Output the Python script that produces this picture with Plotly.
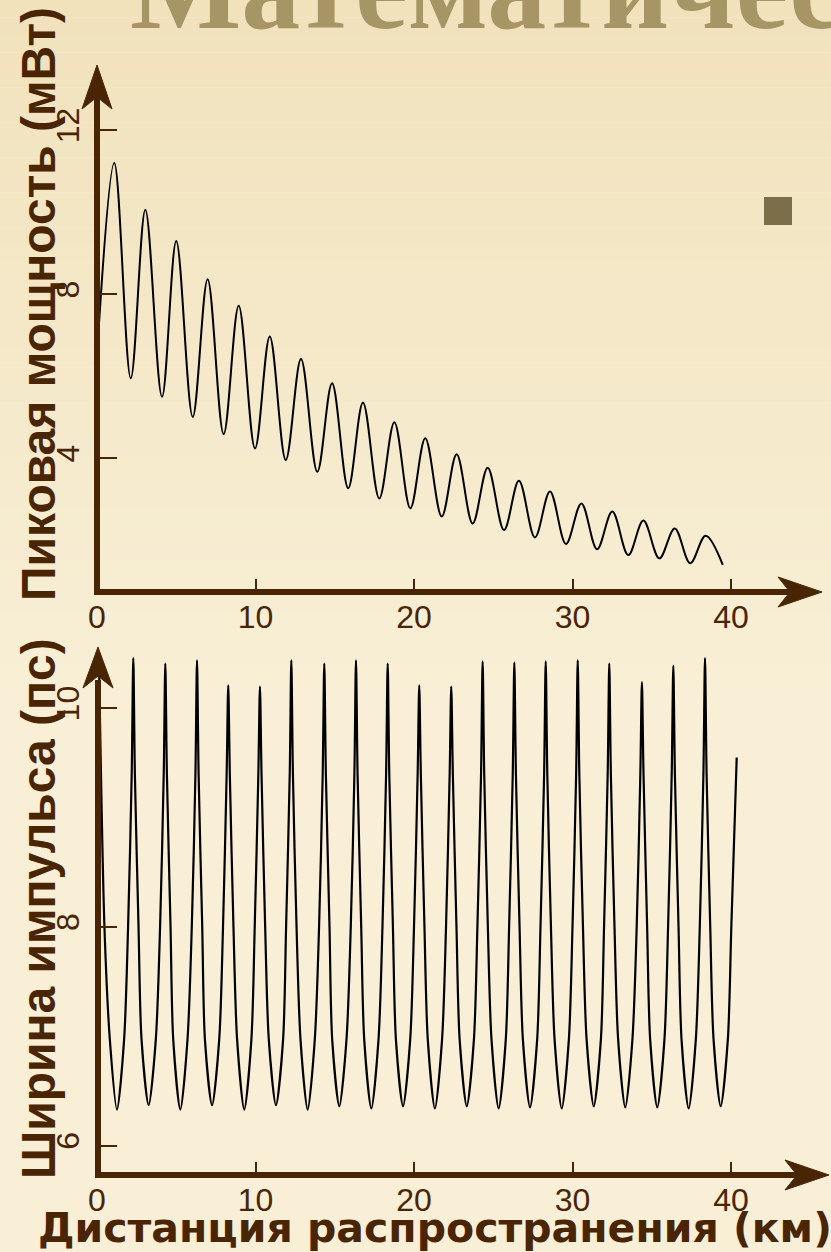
import plotly.graph_objects as go

W, H = 831, 1252

# ---------------- data ----------------
# Top panel: peak power (mW) vs distance (km)
power_start_km = [0.13]
power_start_mw = [7.30]
power_peak_km = [1.09, 3.05, 5.00, 6.98, 8.94, 10.90, 12.87, 14.83, 16.78, 18.76,
                 20.71, 22.69, 24.65, 26.62, 28.58, 30.56, 32.51, 34.47, 36.45, 38.40]
power_peak_mw = [11.20, 10.06, 9.30, 8.37, 7.72, 6.97, 6.42, 5.83, 5.36, 4.88,
                 4.49, 4.10, 3.77, 3.45, 3.19, 2.90, 2.70, 2.48, 2.29, 2.11]
power_trough_km = [2.13, 4.10, 6.04, 7.99, 9.97, 11.91, 13.90, 15.85, 17.81, 19.77,
                   21.75, 23.70, 25.68, 27.63, 29.59, 31.55, 33.52, 35.48, 37.43]
power_trough_mw = [5.95, 5.50, 5.01, 4.59, 4.24, 3.96, 3.67, 3.27, 3.02, 2.78,
                   2.58, 2.41, 2.25, 2.07, 1.91, 1.78, 1.64, 1.56, 1.44]
power_end_km = [39.48]
power_end_mw = [1.40]

# Bottom panel: pulse width (ps) vs distance (km), traced point by point
width_km = [0.14, 0.47, 0.81,
            1.26, 1.71, 1.96, 2.19, 2.29, 2.39, 2.62, 2.81,
            3.26, 3.71, 3.98, 4.21, 4.31, 4.41, 4.64, 4.81,
            5.26, 5.71, 5.98, 6.21, 6.31, 6.41, 6.64, 6.81,
            7.26, 7.71, 7.95, 8.18, 8.28, 8.38, 8.61, 8.84,
            9.29, 9.74, 9.95, 10.18, 10.28, 10.38, 10.61, 10.84,
            11.29, 11.74, 11.93, 12.16, 12.26, 12.36, 12.59, 12.84,
            13.29, 13.74, 14.01, 14.24, 14.34, 14.44, 14.67, 14.84,
            15.29, 15.74, 16.01, 16.24, 16.34, 16.44, 16.67, 16.86,
            17.31, 17.76, 18.01, 18.24, 18.34, 18.44, 18.67, 18.86,
            19.31, 19.76, 20.00, 20.23, 20.33, 20.43, 20.66, 20.87,
            21.32, 21.77, 22.02, 22.25, 22.35, 22.45, 22.68, 22.88,
            23.33, 23.78, 24.00, 24.23, 24.33, 24.43, 24.66, 24.89,
            25.34, 25.79, 26.00, 26.23, 26.33, 26.43, 26.66, 26.87,
            27.32, 27.77, 27.98, 28.21, 28.31, 28.41, 28.64, 28.87,
            29.32, 29.77, 30.00, 30.23, 30.33, 30.43, 30.66, 30.89,
            31.34, 31.79, 31.99, 32.22, 32.32, 32.42, 32.65, 32.88,
            33.33, 33.78, 34.05, 34.28, 34.38, 34.48, 34.71, 34.90,
            35.35, 35.80, 36.03, 36.26, 36.36, 36.46, 36.69, 36.88,
            37.33, 37.78, 38.03, 38.26, 38.36, 38.46, 38.69, 38.90,
            39.35, 39.80, 40.02, 40.36]
width_ps = [10.30, 8.00, 6.97,
            6.33, 6.97, 8.00, 9.40, 10.46, 9.40, 8.00, 6.97,
            6.37, 6.97, 8.00, 9.40, 10.41, 9.40, 8.00, 6.97,
            6.33, 6.97, 8.00, 9.40, 10.44, 9.40, 8.00, 6.97,
            6.37, 6.97, 8.00, 9.40, 10.21, 9.40, 8.00, 6.97,
            6.33, 6.97, 8.00, 9.40, 10.20, 9.40, 8.00, 6.97,
            6.37, 6.97, 8.00, 9.40, 10.44, 9.40, 8.00, 6.97,
            6.33, 6.97, 8.00, 9.40, 10.41, 9.40, 8.00, 6.97,
            6.36, 6.97, 8.00, 9.40, 10.44, 9.40, 8.00, 6.97,
            6.34, 6.97, 8.00, 9.40, 10.41, 9.40, 8.00, 6.97,
            6.36, 6.97, 8.00, 9.40, 10.21, 9.40, 8.00, 6.97,
            6.34, 6.97, 8.00, 9.40, 10.20, 9.40, 8.00, 6.97,
            6.36, 6.97, 8.00, 9.40, 10.43, 9.40, 8.00, 6.97,
            6.34, 6.97, 8.00, 9.40, 10.42, 9.40, 8.00, 6.97,
            6.35, 6.97, 8.00, 9.40, 10.43, 9.40, 8.00, 6.97,
            6.34, 6.97, 8.00, 9.40, 10.44, 9.40, 8.00, 6.97,
            6.36, 6.97, 8.00, 9.40, 10.41, 9.40, 8.00, 6.97,
            6.35, 6.97, 8.00, 9.40, 10.24, 9.40, 8.00, 6.97,
            6.35, 6.97, 8.00, 9.40, 10.39, 9.40, 8.00, 6.97,
            6.34, 6.97, 8.00, 9.40, 10.46, 9.40, 8.00, 6.97,
            6.36, 6.97, 8.00, 9.55]

x_ticks = [0, 10, 20, 30, 40]
x_tick_text = ["0", "10", "20", "30", "40"]
power_ticks = [4, 8, 12]
width_ticks = [6, 8, 10]

title_text = "Математическая модель"
power_title = "Пиковая мощность (мВт)"
width_title = "Ширина импульса (пс)"
dist_title = "Дистанция распространения (км)"

# ---------------- styling ----------------
BROWN = "#4a2504"
SANS = "Liberation Sans, Arial, sans-serif"


def px(p):
    return p / W


def py(p):
    return 1 - p / H


top_pts = sorted(zip(power_start_km + power_peak_km + power_trough_km + power_end_km,
                     power_start_mw + power_peak_mw + power_trough_mw + power_end_mw))

fig = go.Figure()
fig.add_trace(go.Scatter(x=[p[0] for p in top_pts], y=[p[1] for p in top_pts],
                         mode="lines", line=dict(color="black", width=2, shape="spline"),
                         xaxis="x", yaxis="y", showlegend=False, cliponaxis=False))
fig.add_trace(go.Scatter(x=width_km, y=width_ps,
                         mode="lines", line=dict(color="black", width=2.2, shape="spline", smoothing=0.8),
                         xaxis="x2", yaxis="y2", showlegend=False, cliponaxis=False))

X_LEFT, X_RIGHT = 97, 800
KM_PX = 15.85
x_range = [0, (X_RIGHT - X_LEFT) / KM_PX]

common_x = dict(range=x_range, tickvals=x_ticks, ticktext=x_tick_text, ticks="inside",
                ticklen=13, tickwidth=2, tickcolor=BROWN, showline=False, showgrid=False,
                zeroline=False, tickfont=dict(family=SANS, size=32, color=BROWN),
                ticklabelstandoff=3, automargin=False)
common_y = dict(ticks="inside", ticklen=20, tickwidth=2, tickcolor=BROWN, showline=False,
                showgrid=False, zeroline=False, tickangle=-90, automargin=False,
                tickfont=dict(family=SANS, size=32, color=BROWN), ticklabelstandoff=11)

# top panel: y pixel = 294.3 - 41*(v-8)
top_bottom_px, top_top_px = 592, 90
top_range = [8 - (top_bottom_px - 294.3) / 41, 8 + (294.3 - top_top_px) / 41]
# bottom panel: y pixel = 927 - 109.3*(v-8)
bot_bottom_px, bot_top_px = 1175, 652
bot_range = [8 - (bot_bottom_px - 927) / 109.3, 8 + (927 - bot_top_px) / 109.3]

fig.update_layout(
    width=W, height=H, margin=dict(l=0, r=0, t=0, b=0, autoexpand=False),
    paper_bgcolor="#f8efd6", plot_bgcolor="rgba(0,0,0,0)",
    xaxis=dict(domain=[px(X_LEFT), px(X_RIGHT)], anchor="y", **common_x),
    yaxis=dict(domain=[py(top_bottom_px), py(top_top_px)], anchor="x", range=top_range,
               tickvals=power_ticks, **common_y),
    xaxis2=dict(domain=[px(X_LEFT), px(X_RIGHT)], anchor="y2", **common_x),
    yaxis2=dict(domain=[py(bot_bottom_px), py(bot_top_px)], anchor="x2", range=bot_range,
                tickvals=width_ticks, **common_y),
)

shapes = []
# background gradient bands
n = 40
c0 = (241, 226, 188)
c1 = (248, 239, 214)
for i in range(n):
    t = i / (n - 1)
    col = tuple(round(c0[k] + (c1[k] - c0[k]) * t) for k in range(3))
    shapes.append(dict(type="rect", xref="paper", yref="paper", x0=0, x1=1,
                       y0=py(700 * (i + 1) / n), y1=py(700 * i / n),
                       fillcolor="rgb(%d,%d,%d)" % col, line=dict(width=0), layer="below"))


def line(x0, y0, x1, y1):
    shapes.append(dict(type="line", xref="paper", yref="paper", x0=px(x0), y0=py(y0),
                       x1=px(x1), y1=py(y1), line=dict(color=BROWN, width=6), layer="above"))


def head(points):
    d = "M " + " L ".join("%.5f,%.5f" % (px(a), py(b)) for a, b in points) + " Z"
    shapes.append(dict(type="path", xref="paper", yref="paper", path=d,
                       fillcolor=BROWN, line=dict(color=BROWN, width=1), layer="above"))


# top axes
line(94, 592, 800, 592)
head([(822, 592), (778, 577), (790, 592), (778, 607)])
line(97, 595, 97, 95)
head([(97, 65), (82, 109), (97, 97), (112, 109)])
# bottom axes
line(95, 1175, 806, 1175)
head([(829, 1175), (785, 1160), (797, 1175), (785, 1190)])
line(98, 1178, 98, 680)
head([(98, 647), (83, 688), (98, 676), (113, 688)])

# bullet square
shapes.append(dict(type="rect", xref="paper", yref="paper", x0=px(764), x1=px(792),
                   y0=py(225), y1=py(197), fillcolor="#7d6e4a", line=dict(width=0)))

fig.update_layout(shapes=shapes)

annotations = [
    dict(text=title_text, x=px(128), y=py(56), xref="paper", yref="paper",
         xanchor="left", yanchor="bottom", showarrow=False,
         font=dict(family="Liberation Serif, Times New Roman, serif", size=118, color="#a89565", weight="bold")),
    dict(text="<b>%s</b>" % power_title, x=px(38), y=py(304), xref="paper", yref="paper",
         xanchor="center", yanchor="middle", textangle=-90, showarrow=False,
         font=dict(family=SANS, size=48, color=BROWN)),
    dict(text="<b>%s</b>" % width_title, x=px(38), y=py(909), xref="paper", yref="paper",
         xanchor="center", yanchor="middle", textangle=-90, showarrow=False,
         font=dict(family=SANS, size=48, color=BROWN)),
    dict(text="<b>%s</b>" % dist_title, x=px(435), y=py(1228), xref="paper", yref="paper",
         xanchor="center", yanchor="middle", showarrow=False,
         font=dict(family="DejaVu Sans, sans-serif", size=41, color=BROWN)),
]
fig.update_layout(annotations=annotations)

fig.write_html("out.html")
